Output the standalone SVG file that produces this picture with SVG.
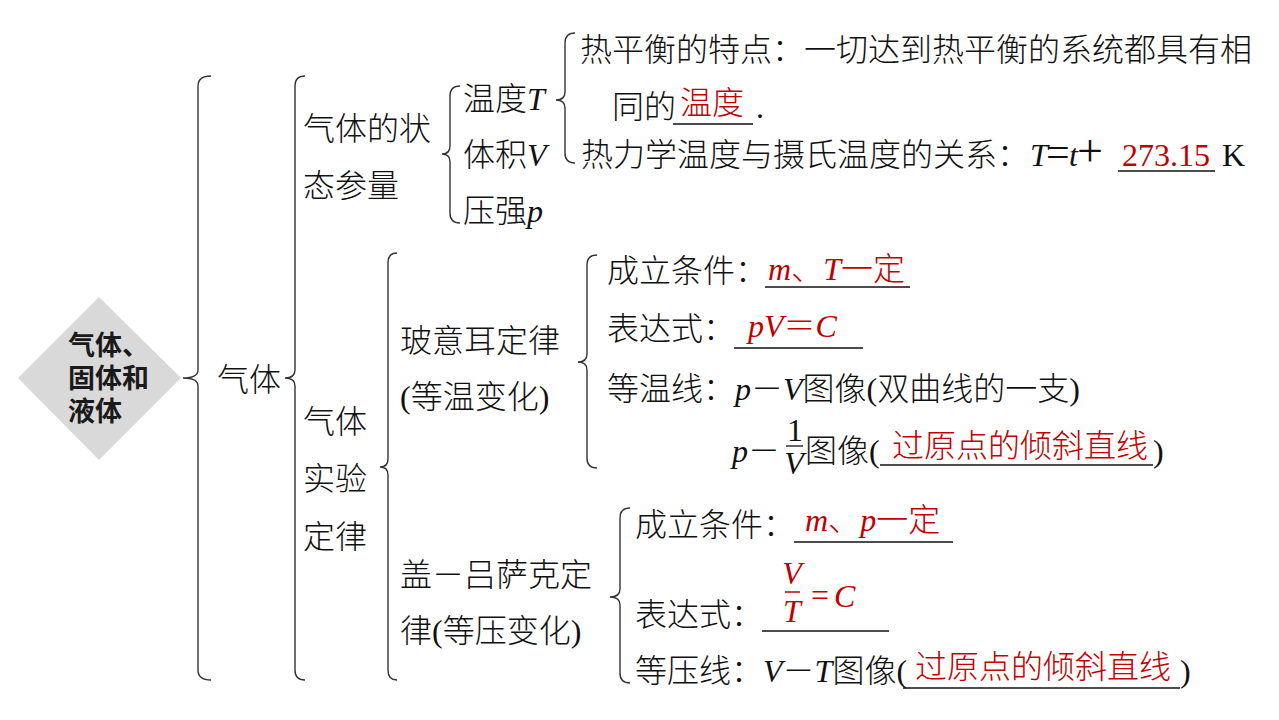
<svg xmlns="http://www.w3.org/2000/svg" width="1279" height="720" viewBox="0 0 1279 720">
<style>
.t{font-family:"Liberation Serif","Noto Sans CJK SC",serif;font-size:32px;fill:#111;font-weight:300}
.i{font-style:italic;font-weight:400}
.r{fill:#c00000}
.u{stroke:#111;stroke-width:1.3}
.br{fill:none;stroke:#333;stroke-width:1.4}
.dm{font-family:"Noto Sans CJK SC","Noto Sans",sans-serif;font-size:27px;font-weight:bold;fill:#1a1a1a}
</style>
<rect width="1279" height="720" fill="#fff"/>
<g id="connectors">
<path class="br" d="M211,76 Q198,76 198,86 L198,370 Q198,378 183,378 Q198,378 198,386 L198,670 Q198,680 211,680"/>
<path class="br" d="M305,76 Q295,76 295,86 L295,370 Q295,378 285,378 Q295,378 295,386 L295,670 Q295,680 305,680"/>
<path class="br" d="M397,253 Q388,253 388,263 L388,459 Q388,467 380,467 Q388,467 388,475 L388,670 Q388,680 397,680"/>
<path class="br" d="M460,86 Q450,86 450,96 L450,146 Q450,154 442,154 Q450,154 450,162 L450,213 Q450,223 460,223"/>
<path class="br" d="M575,33 Q565,33 565,43 L565,92 Q565,100 556,100 Q565,100 565,108 L565,153 Q565,163 575,163"/>
<path class="br" d="M597,255 Q587,255 587,265 L587,354 Q587,362 578,362 Q587,362 587,370 L587,458 Q587,468 597,468"/>
<path class="br" d="M630,508 Q620,508 620,518 L620,589 Q620,597 610,597 Q620,597 620,605 L620,673 Q620,683 630,683"/>
</g>
<g id="root">
<polygon points="99,297 181,378 99,460 18,378" fill="#d9d9d9"/>
<text class="dm" x="68" y="355">气体、<tspan x="68" dy="33">固体和</tspan><tspan x="68" dy="33">液体</tspan></text>
</g>
<g id="gas"><text class="t" x="217" y="391">气体</text></g>
<g id="state">
<text class="t" x="303" y="140">气体的状<tspan x="303" dy="57">态参量</tspan></text>
</g>
<g id="temp"><text class="t" x="463" y="110">温度<tspan class="i">T</tspan></text></g>
<g id="volume"><text class="t" x="463" y="166">体积<tspan class="i">V</tspan></text></g>
<g id="pressure"><text class="t" x="463" y="222">压强<tspan class="i">p</tspan></text></g>
<g id="thermal-eq">
<text class="t" x="580" y="61">热平衡的特点：一切达到热平衡的系统都具有相</text>
<text class="t" x="612" y="118">同的</text>
<text class="t r" x="680" y="114">温度</text>
<line class="u" x1="673" y1="124" x2="753" y2="124"/>
<text class="t" x="756" y="118">.</text>
</g>
<g id="thermo-temp">
<text class="t" x="581" y="166">热力学温度与摄氏温度的关系：<tspan class="i" x="1030">T</tspan><tspan x="1046" font-size="42">=</tspan><tspan class="i" x="1069">t</tspan><tspan x="1077" font-size="46">+</tspan></text>
<text class="t r" x="1122" y="166">273.15</text>
<line class="u" x1="1118" y1="171" x2="1215" y2="171"/>
<text class="t" x="1222" y="166">K</text>
</g>
<g id="experiments">
<text class="t" x="303" y="433">气体<tspan x="303" dy="57">实验</tspan><tspan x="303" dy="58">定律</tspan></text>
</g>
<g id="boyle">
<text class="t" x="400" y="352">玻意耳定律<tspan x="400" dy="56">(等温变化)</tspan></text>
</g>
<g id="boyle-cond">
<text class="t" x="607" y="282">成立条件：</text>
<text class="t r" x="768" y="280"><tspan class="i">m</tspan>、<tspan class="i">T</tspan>一定</text>
<line class="u" x1="765" y1="287" x2="910" y2="287"/>
</g>
<g id="boyle-expr">
<text class="t" x="607" y="340">表达式：</text>
<text class="t r" x="748" y="337"><tspan class="i">pV</tspan>＝<tspan class="i">C</tspan></text>
<line class="u" x1="734" y1="348" x2="863" y2="348"/>
</g>
<g id="boyle-iso">
<text class="t" x="607" y="400">等温线：<tspan class="i">p</tspan>－<tspan class="i">V</tspan>图像(双曲线的一支)</text>
<text class="t" x="732" y="462"><tspan class="i">p</tspan>－</text>
<text class="t" x="795" y="441" font-size="28" text-anchor="middle">1</text>
<line class="u" x1="786" y1="446" x2="803" y2="446"/>
<text class="t i" x="794" y="474" font-size="30" text-anchor="middle">V</text>
<text class="t" x="805" y="462">图像(</text>
<text class="t r" x="892" y="457">过原点的倾斜直线</text>
<line class="u" x1="880" y1="465" x2="1153" y2="465"/>
<text class="t" x="1153" y="462">)</text>
</g>
<g id="gay-lussac">
<text class="t" x="400" y="586">盖－吕萨克定<tspan x="400" dy="56">律(等压变化)</tspan></text>
</g>
<g id="gl-cond">
<text class="t" x="635" y="536">成立条件：</text>
<text class="t r" x="805" y="531"><tspan class="i">m</tspan>、<tspan class="i">p</tspan>一定</text>
<line class="u" x1="794" y1="542" x2="953" y2="542"/>
</g>
<g id="gl-expr">
<text class="t" x="635" y="626">表达式：</text>
<text class="t r i" x="792" y="584" font-size="30" text-anchor="middle">V</text>
<line x1="785" y1="592" x2="800" y2="592" stroke="#c00000" stroke-width="1.5"/>
<text class="t r i" x="792" y="622" font-size="30" text-anchor="middle">T</text>
<text class="t r" x="811" y="606" font-size="28">=</text>
<text class="t r i" x="834" y="607" font-size="30">C</text>
<line class="u" x1="762" y1="631" x2="889" y2="631"/>
</g>
<g id="gl-iso">
<text class="t" x="635" y="682">等压线：<tspan class="i">V</tspan>－<tspan class="i">T</tspan>图像(</text>
<text class="t r" x="915" y="678">过原点的倾斜直线</text>
<line class="u" x1="903" y1="688" x2="1180" y2="688"/>
<text class="t" x="1180" y="682">)</text>
</g>
</svg>
